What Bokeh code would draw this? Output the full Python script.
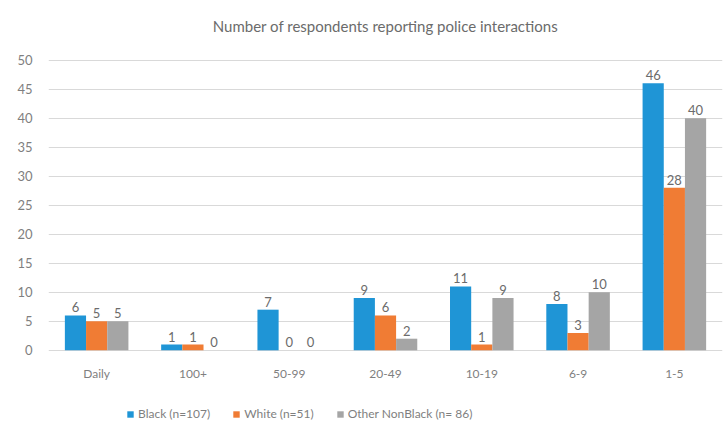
from bokeh.plotting import figure
from bokeh.models import ColumnDataSource, FactorRange, Legend, LegendItem, LabelSet, FixedTicker
from bokeh.core.properties import value
from bokeh.transform import dodge
from bokeh.embed import file_html
from bokeh.resources import INLINE

categories = ["Daily", "100+", "50-99", "20-49", "10-19", "6-9", "1-5"]
black = [6, 1, 7, 9, 11, 8, 46]
white = [5, 1, 0, 6, 1, 3, 28]
other = [5, 0, 0, 2, 9, 10, 40]
series_names = ["Black (n=107)", "White (n=51)", "Other NonBlack (n= 86)"]
colors = ["#1f95d6", "#f07c34", "#a5a5a5"]
y_ticks = [0, 5, 10, 15, 20, 25, 30, 35, 40, 45, 50]

FONT = "Lato"
GRAY = "#7f7f7f"

src = ColumnDataSource(dict(cat=categories, black=black, white=white, other=other,
                            black_t=[str(v) for v in black],
                            white_t=[str(v) for v in white],
                            other_t=[str(v) for v in other]))

p = figure(x_range=FactorRange(*categories), y_range=(-13.3, 52),
           frame_width=674, frame_height=379, output_backend="svg", toolbar_location=None,
           min_border_left=48, min_border_right=5, min_border_top=48, min_border_bottom=0)

p.title.text = "Number of respondents reporting police interactions"
p.title.align = "center"
p.title.text_font = FONT
p.title.text_font_size = "15px"
p.title.text_font_style = "normal"
p.title.text_color = "#6b6b6b"
p.title.standoff = 28

offsets = [-0.22, 0.0, 0.22]
fields = ["black", "white", "other"]
renderers = []
for off, f, c in zip(offsets, fields, colors):
    r = p.vbar(x=dodge("cat", off, range=p.x_range), top=f, width=0.22, source=src,
               fill_color=c, line_color=None)
    renderers.append(r)
    lbl = LabelSet(x=dodge("cat", off, range=p.x_range), y=f, text=f + "_t", source=src,
                   text_align="center", text_baseline="bottom", y_offset=3,
                   text_font=value(FONT), text_font_size=value("13px"), text_color="#6b6b6b")
    p.add_layout(lbl)

p.yaxis.ticker = FixedTicker(ticks=y_ticks)
p.ygrid.ticker = FixedTicker(ticks=y_ticks)
p.ygrid.grid_line_color = "#d9d9d9"
p.xgrid.grid_line_color = None
p.outline_line_color = None

for ax in (p.xaxis, p.yaxis):
    ax.axis_line_color = None
    ax.major_tick_line_color = None
    ax.minor_tick_line_color = None
    ax.major_tick_out = 0
    ax.major_tick_in = 0
    ax.minor_tick_out = 0
    ax.major_label_text_font = FONT
    ax.major_label_text_font_size = "12px"
    ax.major_label_text_color = GRAY
p.yaxis.major_label_text_font_size = "13px"
p.yaxis.major_label_standoff = 16
p.xaxis.major_label_standoff = 16
p.xaxis.fixed_location = 0

legend = Legend(items=[LegendItem(label=n, renderers=[r]) for n, r in zip(series_names, renderers)],
                orientation="horizontal", location=(78, 6),
                label_text_font=FONT, label_text_font_size="12px", label_text_color=GRAY,
                glyph_width=8, glyph_height=8, spacing=22, border_line_color=None,
                label_height=14, label_standoff=4,
                background_fill_alpha=0, margin=0, padding=6)
p.add_layout(legend, "center")

open("out.html", "w").write(file_html(p, INLINE))
